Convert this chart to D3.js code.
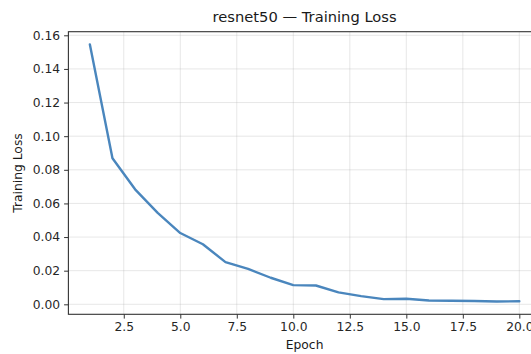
<!DOCTYPE html>
<html>
<head>
<meta charset="utf-8">
<script src="https://cdn.jsdelivr.net/npm/d3@7"></script>
<style>
  body { margin: 0; background: #fff; }
  svg { display: block; font-family: "DejaVu Sans", sans-serif; }
</style>
</head>
<body>
<figure id="chart" style="margin:0"></figure>
<script>
// data
const epochs = [1, 2, 3, 4, 5, 6, 7, 8, 9, 10, 11, 12, 13, 14, 15, 16, 17, 18, 19, 20];
const trainLoss = [0.1545, 0.0869, 0.0684, 0.0544, 0.0424, 0.0357, 0.0251, 0.0211, 0.0158, 0.0114,
  0.0112, 0.0071, 0.0049, 0.0031, 0.0033, 0.0023, 0.0021, 0.0020, 0.0017, 0.0018];
const xTicks = [2.5, 5.0, 7.5, 10.0, 12.5, 15.0, 17.5, 20.0];
const yTicks = [0.00, 0.02, 0.04, 0.06, 0.08, 0.10, 0.12, 0.14, 0.16];

const W = 531, H = 354;
const plot = {left: 68.4, top: 31.7, right: 540.8, bottom: 314.3};

const svg = d3.select("#chart")
  .append("svg")
  .attr("width", W)
  .attr("height", H);

// matplotlib-like 5% margins
const xExt = d3.extent(epochs);
const xPad = (xExt[1] - xExt[0]) * 0.05;
const x = d3.scaleLinear()
  .domain([xExt[0] - xPad, xExt[1] + xPad])
  .range([plot.left, plot.right]);

const yExt = d3.extent(trainLoss);
const yPad = (yExt[1] - yExt[0]) * 0.05;
const y = d3.scaleLinear()
  .domain([yExt[0] - yPad, yExt[1] + yPad])
  .range([plot.bottom, plot.top]);

// grid
svg.append("g")
  .selectAll("line.vg")
  .data(xTicks)
  .enter()
  .append("line")
  .attr("x1", d => x(d)).attr("x2", d => x(d))
  .attr("y1", plot.top).attr("y2", plot.bottom)
  .attr("stroke", "#b0b0b0").attr("stroke-opacity", 0.3).attr("stroke-width", 1);

svg.append("g")
  .selectAll("line.hg")
  .data(yTicks)
  .enter()
  .append("line")
  .attr("x1", plot.left).attr("x2", plot.right)
  .attr("y1", d => y(d)).attr("y2", d => y(d))
  .attr("stroke", "#b0b0b0").attr("stroke-opacity", 0.3).attr("stroke-width", 1);

// the loss curve
const line = d3.line()
  .x((d, i) => x(epochs[i]))
  .y(d => y(d));

svg.append("path")
  .datum(trainLoss)
  .attr("fill", "none")
  .attr("stroke", "#4a86bd")
  .attr("stroke-width", 2.4)
  .attr("stroke-linejoin", "round")
  .attr("stroke-linecap", "round")
  .attr("d", line);

// axes
const xAxis = svg.append("g")
  .attr("transform", "translate(0," + plot.bottom + ")")
  .call(d3.axisBottom(x).tickValues(xTicks).tickFormat(d3.format(".1f")).tickSize(4.3).tickPadding(4));

const yAxis = svg.append("g")
  .attr("transform", "translate(" + plot.left + ",0)")
  .call(d3.axisLeft(y).tickValues(yTicks).tickFormat(d3.format(".2f")).tickSize(4.3).tickPadding(4));

[xAxis, yAxis].forEach(g => {
  g.select(".domain").remove();
  g.selectAll(".tick line").attr("stroke", "#333").attr("stroke-width", 1);
  g.selectAll(".tick text")
    .attr("fill", "#262626")
    .style("font-size", "12.3px")
    .style("font-family", "DejaVu Sans, sans-serif");
});

// spines
svg.append("rect")
  .attr("x", plot.left).attr("y", plot.top)
  .attr("width", plot.right - plot.left)
  .attr("height", plot.bottom - plot.top)
  .attr("fill", "none")
  .attr("stroke", "#333")
  .attr("stroke-width", 1.1);

const cx = (plot.left + plot.right) / 2;

svg.append("text")
  .attr("x", cx)
  .attr("y", 22)
  .attr("text-anchor", "middle")
  .attr("fill", "#1a1a1a")
  .style("font-size", "14.7px")
  .text("resnet50 — Training Loss");

svg.append("text")
  .attr("x", cx)
  .attr("y", 349)
  .attr("text-anchor", "middle")
  .attr("fill", "#1a1a1a")
  .style("font-size", "12.3px")
  .text("Epoch");

// Y axis label
svg.append("text")
  .attr("transform", "translate(22," + ((plot.top + plot.bottom) / 2) + ") rotate(-90)")
  .attr("text-anchor", "middle")
  .attr("fill", "#1a1a1a")
  .style("font-size", "12.3px")
  .text("Training Loss");
</script>
</body>
</html>
